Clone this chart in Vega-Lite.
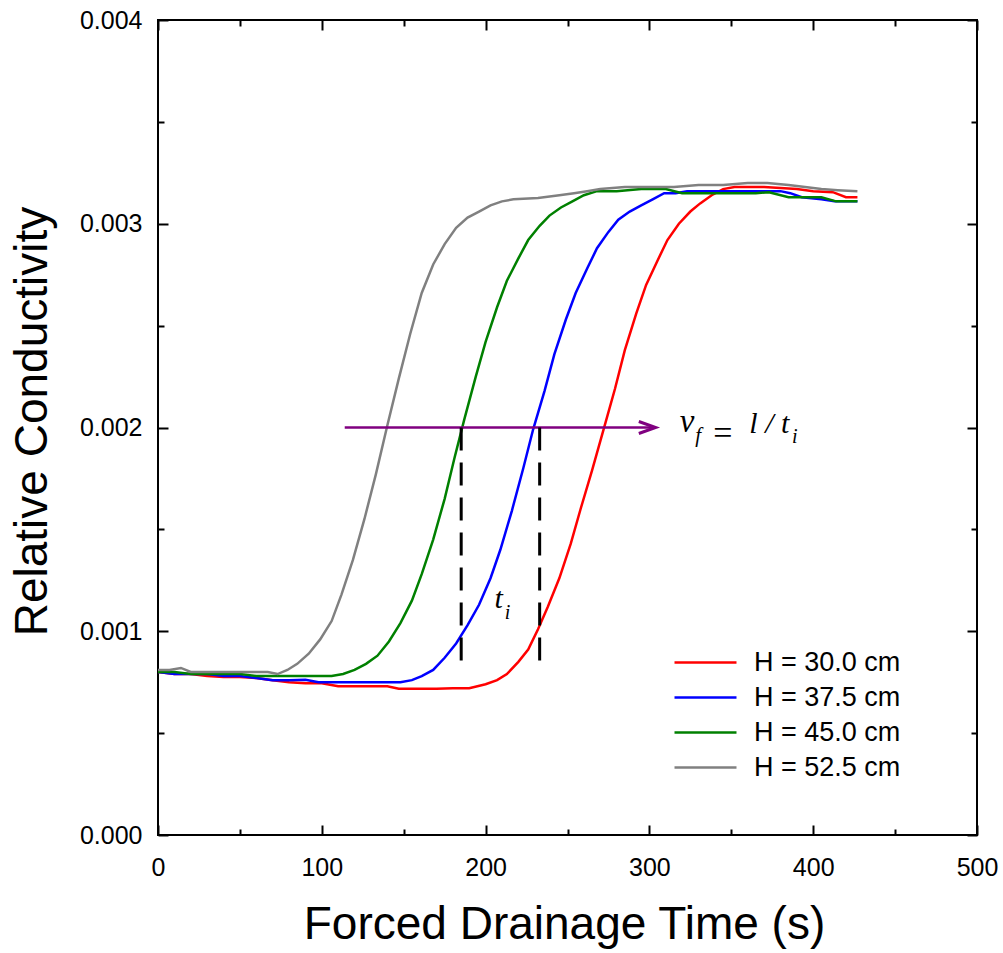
{
  "$schema": "https://vega.github.io/schema/vega-lite/v6.json",
  "width": 819,
  "height": 815,
  "autosize": {"type": "none"},
  "padding": {"left": 158, "top": 20, "right": 26, "bottom": 118},
  "background": "white",
  "config": {"view": {"stroke": "black", "strokeWidth": 2}},
  "data": {"values": [{}]},
  "datasets": {
    "curves": [
      {"H": "H = 30.0 cm", "t": 0, "v": 0.0008},
      {"H": "H = 30.0 cm", "t": 10, "v": 0.00079},
      {"H": "H = 30.0 cm", "t": 20, "v": 0.00079},
      {"H": "H = 30.0 cm", "t": 30, "v": 0.00078},
      {"H": "H = 30.0 cm", "t": 40, "v": 0.000775},
      {"H": "H = 30.0 cm", "t": 50, "v": 0.000775},
      {"H": "H = 30.0 cm", "t": 60, "v": 0.00077},
      {"H": "H = 30.0 cm", "t": 70, "v": 0.00076},
      {"H": "H = 30.0 cm", "t": 80, "v": 0.00075},
      {"H": "H = 30.0 cm", "t": 90, "v": 0.000745},
      {"H": "H = 30.0 cm", "t": 100, "v": 0.000745},
      {"H": "H = 30.0 cm", "t": 110, "v": 0.00073},
      {"H": "H = 30.0 cm", "t": 120, "v": 0.00073},
      {"H": "H = 30.0 cm", "t": 130, "v": 0.00073},
      {"H": "H = 30.0 cm", "t": 140, "v": 0.00073},
      {"H": "H = 30.0 cm", "t": 147, "v": 0.000718},
      {"H": "H = 30.0 cm", "t": 160, "v": 0.000718},
      {"H": "H = 30.0 cm", "t": 170, "v": 0.000718},
      {"H": "H = 30.0 cm", "t": 180, "v": 0.00072},
      {"H": "H = 30.0 cm", "t": 190, "v": 0.00072},
      {"H": "H = 30.0 cm", "t": 200, "v": 0.00074},
      {"H": "H = 30.0 cm", "t": 207, "v": 0.00076},
      {"H": "H = 30.0 cm", "t": 213, "v": 0.00079},
      {"H": "H = 30.0 cm", "t": 220, "v": 0.00085},
      {"H": "H = 30.0 cm", "t": 226, "v": 0.00091},
      {"H": "H = 30.0 cm", "t": 232, "v": 0.00101},
      {"H": "H = 30.0 cm", "t": 238, "v": 0.00112},
      {"H": "H = 30.0 cm", "t": 245, "v": 0.00126},
      {"H": "H = 30.0 cm", "t": 252, "v": 0.00143},
      {"H": "H = 30.0 cm", "t": 258, "v": 0.0016},
      {"H": "H = 30.0 cm", "t": 265, "v": 0.00179},
      {"H": "H = 30.0 cm", "t": 272, "v": 0.00199},
      {"H": "H = 30.0 cm", "t": 279, "v": 0.00219},
      {"H": "H = 30.0 cm", "t": 285, "v": 0.00238},
      {"H": "H = 30.0 cm", "t": 292, "v": 0.00256},
      {"H": "H = 30.0 cm", "t": 298, "v": 0.0027},
      {"H": "H = 30.0 cm", "t": 305, "v": 0.00282},
      {"H": "H = 30.0 cm", "t": 311, "v": 0.00292},
      {"H": "H = 30.0 cm", "t": 318, "v": 0.003},
      {"H": "H = 30.0 cm", "t": 325, "v": 0.00306},
      {"H": "H = 30.0 cm", "t": 331, "v": 0.0031},
      {"H": "H = 30.0 cm", "t": 338, "v": 0.00314},
      {"H": "H = 30.0 cm", "t": 345, "v": 0.00317},
      {"H": "H = 30.0 cm", "t": 352, "v": 0.00318},
      {"H": "H = 30.0 cm", "t": 360, "v": 0.00318},
      {"H": "H = 30.0 cm", "t": 370, "v": 0.00318},
      {"H": "H = 30.0 cm", "t": 380, "v": 0.003175},
      {"H": "H = 30.0 cm", "t": 390, "v": 0.00317},
      {"H": "H = 30.0 cm", "t": 400, "v": 0.00316},
      {"H": "H = 30.0 cm", "t": 412, "v": 0.003155},
      {"H": "H = 30.0 cm", "t": 420, "v": 0.00313},
      {"H": "H = 30.0 cm", "t": 427, "v": 0.00313},

      {"H": "H = 37.5 cm", "t": 0, "v": 0.0008},
      {"H": "H = 37.5 cm", "t": 10, "v": 0.00079},
      {"H": "H = 37.5 cm", "t": 20, "v": 0.00079},
      {"H": "H = 37.5 cm", "t": 30, "v": 0.00079},
      {"H": "H = 37.5 cm", "t": 40, "v": 0.00078},
      {"H": "H = 37.5 cm", "t": 50, "v": 0.00078},
      {"H": "H = 37.5 cm", "t": 60, "v": 0.00077},
      {"H": "H = 37.5 cm", "t": 70, "v": 0.00076},
      {"H": "H = 37.5 cm", "t": 80, "v": 0.00076},
      {"H": "H = 37.5 cm", "t": 90, "v": 0.000762},
      {"H": "H = 37.5 cm", "t": 98, "v": 0.00075},
      {"H": "H = 37.5 cm", "t": 110, "v": 0.00075},
      {"H": "H = 37.5 cm", "t": 120, "v": 0.00075},
      {"H": "H = 37.5 cm", "t": 130, "v": 0.00075},
      {"H": "H = 37.5 cm", "t": 140, "v": 0.00075},
      {"H": "H = 37.5 cm", "t": 148, "v": 0.00075},
      {"H": "H = 37.5 cm", "t": 155, "v": 0.00076},
      {"H": "H = 37.5 cm", "t": 161, "v": 0.00078},
      {"H": "H = 37.5 cm", "t": 168, "v": 0.00081},
      {"H": "H = 37.5 cm", "t": 175, "v": 0.00087},
      {"H": "H = 37.5 cm", "t": 182, "v": 0.00094},
      {"H": "H = 37.5 cm", "t": 189, "v": 0.00103},
      {"H": "H = 37.5 cm", "t": 196, "v": 0.00113},
      {"H": "H = 37.5 cm", "t": 203, "v": 0.00126},
      {"H": "H = 37.5 cm", "t": 209, "v": 0.0014},
      {"H": "H = 37.5 cm", "t": 216, "v": 0.00159},
      {"H": "H = 37.5 cm", "t": 223, "v": 0.0018},
      {"H": "H = 37.5 cm", "t": 229, "v": 0.00199},
      {"H": "H = 37.5 cm", "t": 236, "v": 0.00218},
      {"H": "H = 37.5 cm", "t": 242, "v": 0.00236},
      {"H": "H = 37.5 cm", "t": 249, "v": 0.00253},
      {"H": "H = 37.5 cm", "t": 255, "v": 0.00266},
      {"H": "H = 37.5 cm", "t": 262, "v": 0.00278},
      {"H": "H = 37.5 cm", "t": 268, "v": 0.00288},
      {"H": "H = 37.5 cm", "t": 275, "v": 0.00296},
      {"H": "H = 37.5 cm", "t": 281, "v": 0.00302},
      {"H": "H = 37.5 cm", "t": 288, "v": 0.00306},
      {"H": "H = 37.5 cm", "t": 295, "v": 0.00309},
      {"H": "H = 37.5 cm", "t": 302, "v": 0.00312},
      {"H": "H = 37.5 cm", "t": 309, "v": 0.00315},
      {"H": "H = 37.5 cm", "t": 316, "v": 0.00315},
      {"H": "H = 37.5 cm", "t": 323, "v": 0.00316},
      {"H": "H = 37.5 cm", "t": 335, "v": 0.00316},
      {"H": "H = 37.5 cm", "t": 350, "v": 0.00316},
      {"H": "H = 37.5 cm", "t": 365, "v": 0.00316},
      {"H": "H = 37.5 cm", "t": 380, "v": 0.00316},
      {"H": "H = 37.5 cm", "t": 386, "v": 0.00315},
      {"H": "H = 37.5 cm", "t": 393, "v": 0.00313},
      {"H": "H = 37.5 cm", "t": 405, "v": 0.00312},
      {"H": "H = 37.5 cm", "t": 413, "v": 0.00311},
      {"H": "H = 37.5 cm", "t": 427, "v": 0.00311},

      {"H": "H = 45.0 cm", "t": 0, "v": 0.0008},
      {"H": "H = 45.0 cm", "t": 10, "v": 0.0008},
      {"H": "H = 45.0 cm", "t": 20, "v": 0.00079},
      {"H": "H = 45.0 cm", "t": 30, "v": 0.00079},
      {"H": "H = 45.0 cm", "t": 40, "v": 0.00079},
      {"H": "H = 45.0 cm", "t": 50, "v": 0.00079},
      {"H": "H = 45.0 cm", "t": 60, "v": 0.00078},
      {"H": "H = 45.0 cm", "t": 70, "v": 0.00078},
      {"H": "H = 45.0 cm", "t": 80, "v": 0.00078},
      {"H": "H = 45.0 cm", "t": 90, "v": 0.00078},
      {"H": "H = 45.0 cm", "t": 100, "v": 0.00078},
      {"H": "H = 45.0 cm", "t": 106, "v": 0.00078},
      {"H": "H = 45.0 cm", "t": 113, "v": 0.00079},
      {"H": "H = 45.0 cm", "t": 120, "v": 0.00081},
      {"H": "H = 45.0 cm", "t": 127, "v": 0.00084},
      {"H": "H = 45.0 cm", "t": 134, "v": 0.00088},
      {"H": "H = 45.0 cm", "t": 141, "v": 0.00095},
      {"H": "H = 45.0 cm", "t": 148, "v": 0.00104},
      {"H": "H = 45.0 cm", "t": 155, "v": 0.00115},
      {"H": "H = 45.0 cm", "t": 161, "v": 0.00128},
      {"H": "H = 45.0 cm", "t": 168, "v": 0.00145},
      {"H": "H = 45.0 cm", "t": 175, "v": 0.00165},
      {"H": "H = 45.0 cm", "t": 181, "v": 0.00185},
      {"H": "H = 45.0 cm", "t": 187, "v": 0.00204},
      {"H": "H = 45.0 cm", "t": 194, "v": 0.00225},
      {"H": "H = 45.0 cm", "t": 200, "v": 0.00242},
      {"H": "H = 45.0 cm", "t": 207, "v": 0.00259},
      {"H": "H = 45.0 cm", "t": 213, "v": 0.00272},
      {"H": "H = 45.0 cm", "t": 220, "v": 0.00283},
      {"H": "H = 45.0 cm", "t": 226, "v": 0.00292},
      {"H": "H = 45.0 cm", "t": 233, "v": 0.00299},
      {"H": "H = 45.0 cm", "t": 239, "v": 0.00304},
      {"H": "H = 45.0 cm", "t": 246, "v": 0.00308},
      {"H": "H = 45.0 cm", "t": 253, "v": 0.00311},
      {"H": "H = 45.0 cm", "t": 260, "v": 0.00314},
      {"H": "H = 45.0 cm", "t": 268, "v": 0.00316},
      {"H": "H = 45.0 cm", "t": 280, "v": 0.00316},
      {"H": "H = 45.0 cm", "t": 295, "v": 0.00317},
      {"H": "H = 45.0 cm", "t": 310, "v": 0.00317},
      {"H": "H = 45.0 cm", "t": 320, "v": 0.00315},
      {"H": "H = 45.0 cm", "t": 335, "v": 0.00315},
      {"H": "H = 45.0 cm", "t": 350, "v": 0.00315},
      {"H": "H = 45.0 cm", "t": 365, "v": 0.00315},
      {"H": "H = 45.0 cm", "t": 373, "v": 0.003155},
      {"H": "H = 45.0 cm", "t": 385, "v": 0.00313},
      {"H": "H = 45.0 cm", "t": 405, "v": 0.00313},
      {"H": "H = 45.0 cm", "t": 414, "v": 0.00311},
      {"H": "H = 45.0 cm", "t": 427, "v": 0.00311},

      {"H": "H = 52.5 cm", "t": 0, "v": 0.00081},
      {"H": "H = 52.5 cm", "t": 7, "v": 0.00081},
      {"H": "H = 52.5 cm", "t": 14, "v": 0.00082},
      {"H": "H = 52.5 cm", "t": 20, "v": 0.0008},
      {"H": "H = 52.5 cm", "t": 30, "v": 0.0008},
      {"H": "H = 52.5 cm", "t": 40, "v": 0.0008},
      {"H": "H = 52.5 cm", "t": 50, "v": 0.0008},
      {"H": "H = 52.5 cm", "t": 60, "v": 0.0008},
      {"H": "H = 52.5 cm", "t": 67, "v": 0.0008},
      {"H": "H = 52.5 cm", "t": 73, "v": 0.00079},
      {"H": "H = 52.5 cm", "t": 79, "v": 0.00081},
      {"H": "H = 52.5 cm", "t": 85, "v": 0.00084},
      {"H": "H = 52.5 cm", "t": 92, "v": 0.00089},
      {"H": "H = 52.5 cm", "t": 99, "v": 0.00096},
      {"H": "H = 52.5 cm", "t": 106, "v": 0.00105},
      {"H": "H = 52.5 cm", "t": 112, "v": 0.00118},
      {"H": "H = 52.5 cm", "t": 119, "v": 0.00135},
      {"H": "H = 52.5 cm", "t": 126, "v": 0.00155},
      {"H": "H = 52.5 cm", "t": 133, "v": 0.00177},
      {"H": "H = 52.5 cm", "t": 140, "v": 0.00201},
      {"H": "H = 52.5 cm", "t": 147, "v": 0.00224},
      {"H": "H = 52.5 cm", "t": 154, "v": 0.00246},
      {"H": "H = 52.5 cm", "t": 161, "v": 0.00266},
      {"H": "H = 52.5 cm", "t": 168, "v": 0.0028},
      {"H": "H = 52.5 cm", "t": 175, "v": 0.0029},
      {"H": "H = 52.5 cm", "t": 182, "v": 0.00298},
      {"H": "H = 52.5 cm", "t": 189, "v": 0.00303},
      {"H": "H = 52.5 cm", "t": 196, "v": 0.00306},
      {"H": "H = 52.5 cm", "t": 203, "v": 0.00309},
      {"H": "H = 52.5 cm", "t": 210, "v": 0.00311},
      {"H": "H = 52.5 cm", "t": 217, "v": 0.00312},
      {"H": "H = 52.5 cm", "t": 232, "v": 0.003126},
      {"H": "H = 52.5 cm", "t": 245, "v": 0.00314},
      {"H": "H = 52.5 cm", "t": 254, "v": 0.00315},
      {"H": "H = 52.5 cm", "t": 262, "v": 0.00316},
      {"H": "H = 52.5 cm", "t": 270, "v": 0.00317},
      {"H": "H = 52.5 cm", "t": 285, "v": 0.00318},
      {"H": "H = 52.5 cm", "t": 300, "v": 0.00318},
      {"H": "H = 52.5 cm", "t": 315, "v": 0.00318},
      {"H": "H = 52.5 cm", "t": 330, "v": 0.00319},
      {"H": "H = 52.5 cm", "t": 345, "v": 0.00319},
      {"H": "H = 52.5 cm", "t": 360, "v": 0.0032},
      {"H": "H = 52.5 cm", "t": 372, "v": 0.0032},
      {"H": "H = 52.5 cm", "t": 385, "v": 0.00319},
      {"H": "H = 52.5 cm", "t": 395, "v": 0.00318},
      {"H": "H = 52.5 cm", "t": 405, "v": 0.00317},
      {"H": "H = 52.5 cm", "t": 415, "v": 0.003165},
      {"H": "H = 52.5 cm", "t": 427, "v": 0.00316}
    ]
  },
  "layer": [
    {
      "data": {"name": "curves"},
      "mark": {"type": "line", "strokeWidth": 2.5, "clip": true},
      "encoding": {
        "x": {
          "field": "t", "type": "quantitative",
          "scale": {"domain": [0, 500], "nice": false, "zero": false},
          "axis": {
            "orient": "bottom",
            "values": [0, 100, 200, 300, 400, 500],
            "format": "d",
            "domain": false, "grid": false,
            "ticks": true, "tickSize": -10, "tickColor": "black", "tickWidth": 2,
            "labelFont": "Liberation Sans", "labelFontSize": 25, "labelColor": "black",
            "labelPadding": 30, "labelFlush": false, "labelOverlap": false,
            "title": "Forced Drainage Time (s)",
            "titleFont": "Liberation Sans", "titleFontSize": 46, "titleFontWeight": "normal", "titleColor": "black",
            "titleBaseline": "alphabetic", "titleAlign": "center", "titleX": 406, "titleY": 103
          }
        },
        "y": {
          "field": "v", "type": "quantitative",
          "scale": {"domain": [0, 0.004], "nice": false},
          "axis": {
            "orient": "left",
            "values": [0, 0.001, 0.002, 0.003, 0.004],
            "format": ".3f",
            "domain": false, "grid": false,
            "ticks": true, "tickSize": -10, "tickColor": "black", "tickWidth": 2,
            "labelFont": "Liberation Sans", "labelFontSize": 25, "labelColor": "black",
            "labelPadding": 26, "labelFlush": false, "labelOverlap": false,
            "title": "Relative Conductivity",
            "titleFont": "Liberation Sans", "titleFontSize": 46, "titleFontWeight": "normal", "titleColor": "black",
            "titleAngle": 270, "titleBaseline": "alphabetic", "titleAlign": "center", "titleX": -112, "titleY": 401
          }
        },
        "color": {
          "field": "H", "type": "nominal",
          "scale": {"domain": ["H = 30.0 cm", "H = 37.5 cm", "H = 45.0 cm", "H = 52.5 cm"], "range": ["#ff0000", "#0000ff", "#008000", "#808080"]},
          "legend": {
            "orient": "none", "legendX": 534, "legendY": 629,
            "title": null, "padding": 0,
            "symbolType": "M-3,0H3", "symbolSize": 427, "symbolStrokeWidth": 2.5,
            "labelFont": "Liberation Sans", "labelFontSize": 27, "labelColor": "black",
            "labelOffset": 35, "rowPadding": 7
          }
        }
      }
    },
    {
      "mark": {"type": "rule", "color": "#800080", "strokeWidth": 2.5},
      "encoding": {
        "x": {
          "datum": 114, "type": "quantitative",
          "axis": {
            "orient": "top", "values": [0, 100, 200, 300, 400, 500],
            "labels": false, "domain": false, "grid": false, "title": null,
            "ticks": true, "tickSize": -10, "tickColor": "black", "tickWidth": 2
          }
        },
        "x2": {"datum": 303},
        "y": {
          "datum": 0.002, "type": "quantitative",
          "axis": {
            "orient": "right", "values": [0, 0.001, 0.002, 0.003, 0.004],
            "labels": false, "domain": false, "grid": false, "title": null,
            "ticks": true, "tickSize": -10, "tickColor": "black", "tickWidth": 2
          }
        }
      }
    },
    {
      "mark": {"type": "rule", "color": "black", "strokeWidth": 3, "strokeDash": [23, 12]},
      "encoding": {
        "x": {
          "datum": 185.1, "type": "quantitative",
          "axis": {
            "orient": "bottom", "values": [50, 150, 250, 350, 450],
            "labels": false, "domain": false, "grid": false, "title": null,
            "ticks": true, "tickSize": -6, "tickColor": "black", "tickWidth": 2
          }
        },
        "y": {
          "datum": 0.002, "type": "quantitative",
          "axis": {
            "orient": "left", "values": [0.0005, 0.0015, 0.0025, 0.0035],
            "labels": false, "domain": false, "grid": false, "title": null,
            "ticks": true, "tickSize": -6, "tickColor": "black", "tickWidth": 2
          }
        },
        "y2": {"datum": 0.00082}
      }
    },
    {
      "mark": {"type": "rule", "color": "black", "strokeWidth": 3, "strokeDash": [23, 12]},
      "encoding": {
        "x": {
          "datum": 233, "type": "quantitative",
          "axis": {
            "orient": "top", "values": [50, 150, 250, 350, 450],
            "labels": false, "domain": false, "grid": false, "title": null,
            "ticks": true, "tickSize": -6, "tickColor": "black", "tickWidth": 2
          }
        },
        "y": {
          "datum": 0.002, "type": "quantitative",
          "axis": {
            "orient": "right", "values": [0.0005, 0.0015, 0.0025, 0.0035],
            "labels": false, "domain": false, "grid": false, "title": null,
            "ticks": true, "tickSize": -6, "tickColor": "black", "tickWidth": 2
          }
        },
        "y2": {"datum": 0.000812}
      }
    },
    {
      "mark": {"type": "point", "shape": "M-2.8,-1L0,0L-2.8,1", "size": 144, "filled": false, "stroke": "#800080", "strokeWidth": 3, "strokeJoin": "miter", "opacity": 1},
      "encoding": {
        "x": {"datum": 303.8, "type": "quantitative", "axis": null},
        "y": {"datum": 0.002, "type": "quantitative", "axis": null}
      }
    },
    {
      "mark": {"type": "text", "text": "v", "font": "Liberation Serif", "fontStyle": "italic", "fontSize": 33, "align": "left", "baseline": "alphabetic", "color": "black"},
      "encoding": {
        "x": {"datum": 318.5, "type": "quantitative", "axis": null},
        "y": {"datum": 0.00198, "type": "quantitative", "axis": null}
      }
    },
    {
      "mark": {"type": "text", "text": "f", "font": "Liberation Serif", "fontStyle": "italic", "fontSize": 21, "align": "left", "baseline": "alphabetic", "color": "black"},
      "encoding": {
        "x": {"datum": 328, "type": "quantitative", "axis": null},
        "y": {"datum": 0.00193, "type": "quantitative", "axis": null}
      }
    },
    {
      "mark": {"type": "text", "text": "=", "font": "Liberation Serif", "fontSize": 34, "align": "left", "baseline": "alphabetic", "color": "black"},
      "encoding": {
        "x": {"datum": 339, "type": "quantitative", "axis": null},
        "y": {"datum": 0.00192, "type": "quantitative", "axis": null}
      }
    },
    {
      "mark": {"type": "text", "text": "l / t", "font": "Liberation Serif", "fontStyle": "italic", "fontSize": 30, "align": "left", "baseline": "alphabetic", "color": "black"},
      "encoding": {
        "x": {"datum": 361, "type": "quantitative", "axis": null},
        "y": {"datum": 0.001975, "type": "quantitative", "axis": null}
      }
    },
    {
      "mark": {"type": "text", "text": "i", "font": "Liberation Serif", "fontStyle": "italic", "fontSize": 20, "align": "left", "baseline": "alphabetic", "color": "black"},
      "encoding": {
        "x": {"datum": 387, "type": "quantitative", "axis": null},
        "y": {"datum": 0.001925, "type": "quantitative", "axis": null}
      }
    },
    {
      "mark": {"type": "text", "text": "t", "font": "Liberation Serif", "fontStyle": "italic", "fontSize": 30, "align": "left", "baseline": "alphabetic", "color": "black"},
      "encoding": {
        "x": {"datum": 205.5, "type": "quantitative", "axis": null},
        "y": {"datum": 0.001113, "type": "quantitative", "axis": null}
      }
    },
    {
      "mark": {"type": "text", "text": "i", "font": "Liberation Serif", "fontStyle": "italic", "fontSize": 20, "align": "left", "baseline": "alphabetic", "color": "black"},
      "encoding": {
        "x": {"datum": 211.7, "type": "quantitative", "axis": null},
        "y": {"datum": 0.001062, "type": "quantitative", "axis": null}
      }
    }
  ],
  "resolve": {"axis": {"x": "independent", "y": "independent"}}
}
